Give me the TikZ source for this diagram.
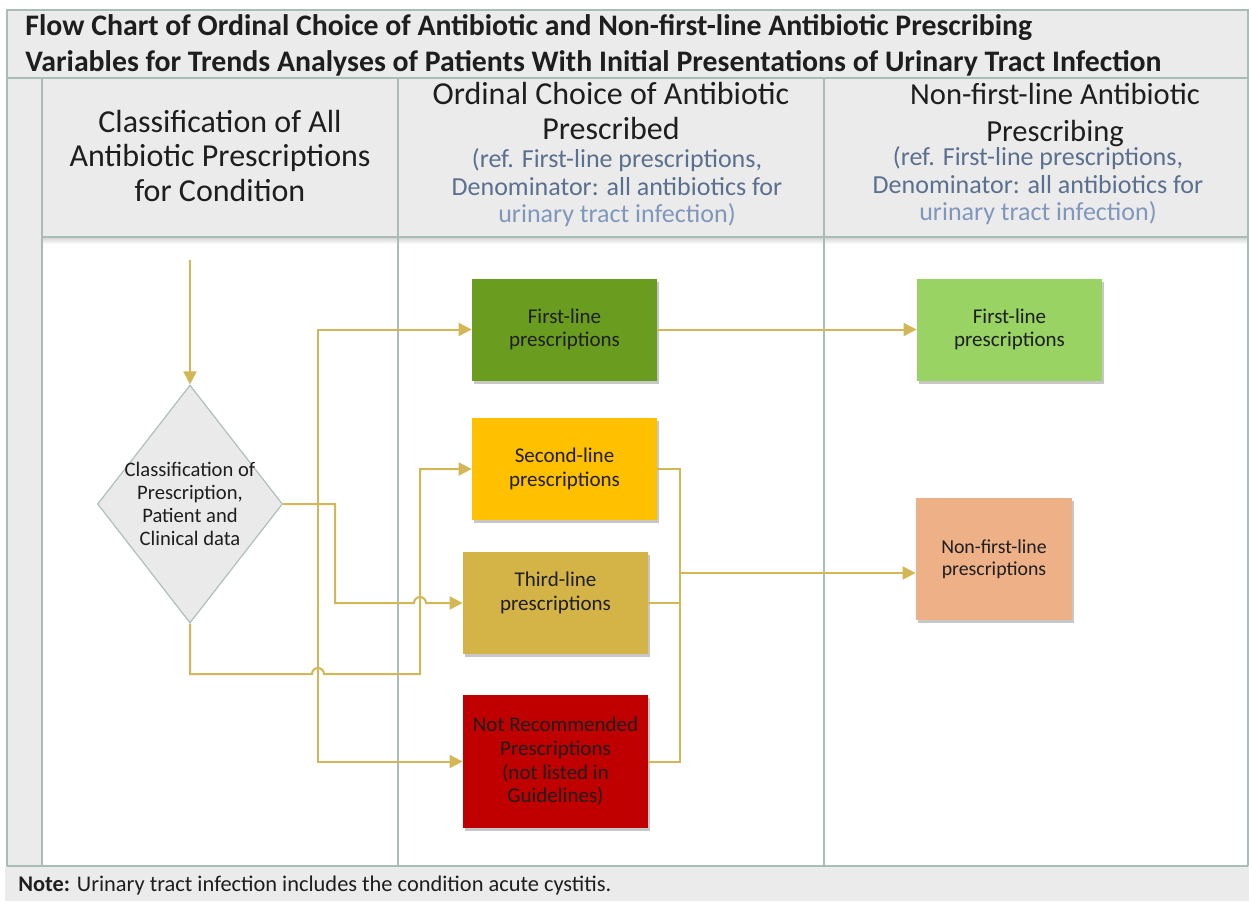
\documentclass[tikz,border=0pt]{standalone}
\usepackage{fontspec}
\setmainfont{Carlito}
\usetikzlibrary{arrows.meta,shapes.geometric,shadows}

\definecolor{bandgray}{HTML}{EBEBEB}
\definecolor{frameline}{HTML}{A9BCB8}
\definecolor{subblue}{HTML}{5B708E}
\definecolor{subbluelight}{HTML}{8097BC}
\definecolor{flow}{HTML}{D3B655}
\definecolor{darkgreen}{HTML}{6A9D1F}
\definecolor{lightgreen}{HTML}{98D363}
\definecolor{amber}{HTML}{FFC000}
\definecolor{ochre}{HTML}{D4B447}
\definecolor{deepred}{HTML}{C00000}
\definecolor{salmon}{HTML}{EEB087}
\definecolor{diamfill}{HTML}{EAEAEA}
\definecolor{diamline}{HTML}{AFC0BC}
\definecolor{ink}{HTML}{1E1E1E}

\tikzset{
  lane/.style={draw=frameline, line width=0.8pt},
  stepbox/.style={minimum width=92.5pt, minimum height=51pt, inner sep=2pt,
    align=center, text=ink, font=\fontsize{10.5}{11.8}\selectfont,
    drop shadow={shadow xshift=1.2pt, shadow yshift=-1.5pt, opacity=0.22, fill=black}},
  headbig/.style={align=center, text=ink, font=\fontsize{16}{17.5}\selectfont},
  headsub/.style={align=center, text=subblue, font=\fontsize{13}{13.75}\selectfont},
  conn/.style={draw=flow, line width=1pt},
  arrowed/.style={-{Triangle[width=6.5pt,length=6.5pt]}},
}

\begin{document}
\begin{tikzpicture}[x=0.5pt,y=-0.5pt]
\useasboundingbox (0,0) rectangle (1249,901);
\fill[white] (0,0) rectangle (1249,901);

% bands: title, left strip, header row, note
\fill[bandgray] (7,10) rectangle (1249,78);
\fill[bandgray] (7,78) rectangle (42,866);
\fill[bandgray] (42,78) rectangle (1249,237);
\fill[bandgray] (5,866) rectangle (1249,901);
\shade[top color=black!18, bottom color=white] (42,237) rectangle (1249,244);

% swimlane frame
\draw[lane] (7,866) -- (7,10) -- (1248,10) -- (1248,866);
\draw[lane] (7,78) -- (1248,78);
\draw[lane] (42,237) -- (1248,237);
\draw[lane] (7,866) -- (1248,866);
\draw[lane] (42,78) -- (42,866);
\draw[lane] (398,78) -- (398,866);
\draw[lane] (824,78) -- (824,866);

% title
\node[anchor=base west, inner sep=0pt, text=ink, font=\fontsize{14.9}{16}\bfseries\selectfont] (title1) at (25,35)
  {Flow Chart of Ordinal Choice of Antibiotic and Non-first-line Antibiotic Prescribing};
\node[anchor=base west, inner sep=0pt, text=ink, font=\fontsize{14.9}{16}\bfseries\selectfont] (title2) at (25,71)
  {Variables for Trends Analyses of Patients With Initial Presentations of Urinary Tract Infection};

% column headers
\node[headbig] (head1) at (220,156) {Classification of All\\Antibiotic Prescriptions\\for Condition};
\node[headbig] (head2) at (611,111) {Ordinal Choice of Antibiotic\\Prescribed};
\node[headsub] (head2sub) at (617,188) {(ref. First-line prescriptions,\\Denominator: all antibiotics for\\\textcolor{subbluelight}{urinary tract infection)}};
\node[headbig, font=\fontsize{15.3}{17.5}\selectfont] (head3) at (1055,115) {Non-first-line Antibiotic\\[1pt]Prescribing};
\node[headsub] (head3sub) at (1038,186) {(ref. First-line prescriptions,\\Denominator: all antibiotics for\\\textcolor{subbluelight}{urinary tract infection)}};

% decision
\node[diamond, draw=diamline, fill=diamfill, line width=0.6pt, inner sep=0pt,
      minimum width=92.5pt, minimum height=119pt] (dia) at (190,504) {};
\node[align=center, text=ink, font=\fontsize{10.3}{11.6}\selectfont] (diatext) at (dia.center)
  {Classification of\\Prescription,\\Patient and\\Clinical data};

% prescription categories
\node[stepbox, fill=darkgreen] (first) at (564.5,329.5) {First-line\\prescriptions};
\node[stepbox, fill=amber] (second) at (564.5,469) {Second-line\\prescriptions};
\node[stepbox, fill=ochre] (third) at (555.5,603) {Third-line\\prescriptions\\\mbox{}};
\node[stepbox, fill=deepred, minimum height=66.5pt] (notrec) at (555.5,761.5)
  {Not Recommended\\Prescriptions\\(not listed in\\Guidelines)};
\node[stepbox, fill=lightgreen] (firstout) at (1009.5,329.5) {First-line\\prescriptions};
\node[stepbox, fill=salmon, minimum width=78pt, minimum height=61pt,
      font=\fontsize{9.9}{11}\selectfont] (nfl) at (994,559) {Non-first-line\\prescriptions};

% connectors
\coordinate (start) at (190,260);
\coordinate (split) at (318,504);
\coordinate (merge) at (680,573);

\draw[conn, arrowed] (start) -- (dia.north);
\draw[conn, arrowed] (dia.east) -- (335,504) -- (335,603) -- (414,603)
  arc[start angle=180, end angle=0, radius=3pt] -- (third.west);
\draw[conn, arrowed] (split) |- (first.west);
\draw[conn, arrowed] (split) |- (notrec.west);
\draw[conn, arrowed] (dia.south) -- (190,674) -- (312,674)
  arc[start angle=180, end angle=0, radius=3pt] -- (420,674) -- (420,469) -- (second.west);

\draw[conn, arrowed] (first.east) -- (firstout.west);
\draw[conn] (second.east) -- (680,469) -- (680,761.5) -- (notrec.east);
\draw[conn] (third.east) -- (third.east -| merge);
\draw[conn, arrowed] (merge) -- (merge -| nfl.west);

% note
\node[anchor=base west, inner sep=0pt, text=ink, font=\fontsize{11.2}{12}\selectfont] (note) at (18,891)
  {\textbf{Note:} Urinary tract infection includes the condition acute cystitis.};
\end{tikzpicture}
\end{document}
